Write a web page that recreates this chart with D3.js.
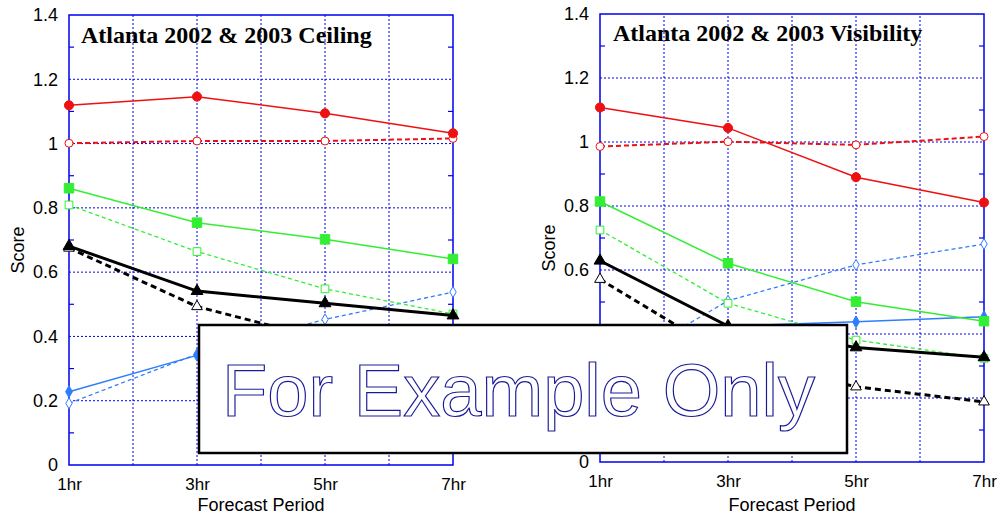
<!DOCTYPE html>
<html>
<head>
<meta charset="utf-8">
<script src="https://cdn.jsdelivr.net/npm/d3@7"></script>
<style>
  body { margin: 0; background: #fff; }
  svg { display: block; font-family: Arial, "Liberation Sans", sans-serif; }
</style>
</head>
<body>
<svg id="chart" width="999" height="516"></svg>
<script>
// Forecast periods (hours)
const periods = [1, 3, 5, 7];
const yTicks = [0, 0.2, 0.4, 0.6, 0.8, 1, 1.2, 1.4];

// Ceiling panel
const ceilRedSolid   = [1.119, 1.146, 1.094, 1.032];
const ceilRedDash    = [1.001, 1.008, 1.008, 1.016];
const ceilGreenSolid = [0.861, 0.754, 0.702, 0.641];
const ceilGreenDash  = [0.809, 0.664, 0.548, 0.470];
const ceilBlackSolid = [0.681, 0.541, 0.503, 0.465];
const ceilBlackDash  = [0.675, 0.493, 0.390, 0.360];
const ceilBlueSolid  = [0.228, 0.341, 0.390, 0.420];
const ceilBlueDash   = [0.192, 0.345, 0.453, 0.538];

// Visibility panel
const visRedSolid   = [1.108, 1.044, 0.890, 0.811];
const visRedDash    = [0.986, 1.001, 0.991, 1.017];
const visGreenSolid = [0.814, 0.621, 0.501, 0.440];
const visGreenDash  = [0.725, 0.496, 0.381, 0.324];
const visBlackSolid = [0.629, 0.425, 0.358, 0.327];
const visBlackDash  = [0.571, 0.330, 0.235, 0.188];
const visBlueSolid  = [0.280, 0.425, 0.438, 0.454];
const visBlueDash   = [0.270, 0.504, 0.616, 0.681];

const RED = "#ee1111", GREEN = "#33ee33", BLUE = "#2f7dff", BLACK = "#000";

// overlay box, in pixels
const box = { x: 199, y: 325, w: 648, h: 128 };

function seriesFor(r1, r2, g1, g2, b1, b2, k1, k2) {
  return [
    { values: b2, color: BLUE, dash: "4,3", width: 1.3, marker: "diamond", fill: false },
    { values: b1, color: BLUE, dash: null, width: 1.5, marker: "diamond", fill: true },
    { values: g2, color: GREEN, dash: "4,3", width: 1.3, marker: "square", fill: false },
    { values: g1, color: GREEN, dash: null, width: 1.5, marker: "square", fill: true },
    { values: r2, color: RED, dash: "5,3", width: 2, marker: "circle", fill: false },
    { values: r1, color: RED, dash: null, width: 1.5, marker: "circle", fill: true },
    { values: k2, color: BLACK, dash: "6,4", width: 3, marker: "triangle", fill: false },
    { values: k1, color: BLACK, dash: null, width: 3, marker: "triangle", fill: true }
  ];
}

const svg = d3.select("#chart");

function drawPanel(opts) {
  const x = d3.scaleLinear().domain([1, 7]).range([opts.x0, opts.x1]);
  const y = d3.scaleLinear().domain([0, 1.4]).range([opts.y0, opts.y1]);
  const g = svg.append("g");

  // grid
  g.append("g").selectAll("line").data([2, 3, 4, 5, 6]).join("line")
    .attr("x1", d => x(d)).attr("x2", d => x(d))
    .attr("y1", y(0)).attr("y2", y(1.4))
    .attr("stroke", "#0000ee").attr("stroke-width", 1).attr("stroke-dasharray", "2,2");
  g.append("g").selectAll("line").data([0.2, 0.4, 0.6, 0.8, 1, 1.2]).join("line")
    .attr("x1", x(1)).attr("x2", x(7))
    .attr("y1", d => y(d)).attr("y2", d => y(d))
    .attr("stroke", "#0000ee").attr("stroke-width", 1).attr("stroke-dasharray", "2,2");

  // minor ticks on left and right edges
  const minor = d3.range(0.1, 1.4, 0.2);
  g.append("g").selectAll("line").data(minor).join("line")
    .attr("x1", x(1)).attr("x2", x(1) + 5)
    .attr("y1", d => y(d)).attr("y2", d => y(d))
    .attr("stroke", "#0000ee").attr("stroke-width", 1.2);
  g.append("g").selectAll("line").data(minor).join("line")
    .attr("x1", x(7)).attr("x2", x(7) - 5)
    .attr("y1", d => y(d)).attr("y2", d => y(d))
    .attr("stroke", "#0000ee").attr("stroke-width", 1.2);

  // frame
  g.append("rect")
    .attr("x", x(1)).attr("y", y(1.4))
    .attr("width", x(7) - x(1)).attr("height", y(0) - y(1.4))
    .attr("fill", "none").attr("stroke", "#0000ee").attr("stroke-width", 1.5);

  // y tick labels (those hidden under the overlay box are left out)
  const visibleY = yTicks.filter(t => {
    const py = y(t), px = x(1) - 20;
    return !(px > box.x && px < box.x + box.w && py > box.y && py < box.y + box.h);
  });
  const yAxis = d3.axisLeft(y).tickValues(visibleY).tickSize(0).tickPadding(11)
    .tickFormat(d => d3.format("")(+d.toFixed(1)));
  const ya = g.append("g").attr("transform", `translate(${x(1)},0)`).call(yAxis);
  ya.select(".domain").remove();
  ya.selectAll("text").attr("font-size", 18).attr("fill", "#000")
    .attr("font-family", "Arial, 'Liberation Sans', sans-serif");

  const xAxis = d3.axisBottom(x).tickValues(periods).tickSize(0).tickPadding(13)
    .tickFormat(d => d + "hr");
  const xa = g.append("g").attr("transform", `translate(0,${y(0)})`).call(xAxis);
  xa.select(".domain").remove();
  xa.selectAll("text").attr("font-size", 17).attr("fill", "#000")
    .attr("font-family", "Arial, 'Liberation Sans', sans-serif");

  g.append("text")
    .attr("x", (x(1) + x(7)) / 2).attr("y", 511)
    .attr("text-anchor", "middle").attr("font-size", 18).text("Forecast Period");
  g.append("text")
    .attr("transform", `translate(${opts.scoreX},${(y(0) + y(1.4)) / 2 + 10}) rotate(-90)`)
    .attr("text-anchor", "middle").attr("font-size", 18).text("Score");

  // title
  g.append("text")
    .attr("x", opts.titleX).attr("y", opts.titleY)
    .attr("font-family", "'Liberation Serif', 'Times New Roman', serif")
    .attr("font-weight", "bold").attr("font-size", 24)
    .text(opts.title);

  // series
  const line = d3.line().x((d, i) => x(periods[i])).y(d => y(d));
  opts.series.forEach(s => {
    g.append("path")
      .attr("d", line(s.values))
      .attr("fill", "none").attr("stroke", s.color)
      .attr("stroke-width", s.width)
      .attr("stroke-dasharray", s.dash);
    const sym = {
      circle: d3.symbolCircle, square: d3.symbolSquare,
      triangle: d3.symbolTriangle, diamond: d3.symbolDiamond
    }[s.marker];
    const size = {
      circle: s.fill ? 65 : 50, square: s.fill ? 90 : 60,
      triangle: s.fill ? 60 : 50, diamond: s.fill ? 40 : 35
    }[s.marker];
    g.append("g").selectAll("path").data(s.values).join("path")
      .attr("transform", (d, i) => `translate(${x(periods[i])},${y(d)})`)
      .attr("d", d3.symbol().type(sym).size(size))
      .attr("fill", s.fill ? s.color : "#fff")
      .attr("stroke", s.color).attr("stroke-width", 1);
  });
}

drawPanel({
  x0: 69, x1: 453, y0: 465, y1: 15, scoreX: 24,
  title: "Atlanta 2002 & 2003 Ceiling", titleX: 81, titleY: 43,
  series: seriesFor(ceilRedSolid, ceilRedDash, ceilGreenSolid, ceilGreenDash,
                    ceilBlueSolid, ceilBlueDash, ceilBlackSolid, ceilBlackDash)
});
drawPanel({
  x0: 600, x1: 984, y0: 462, y1: 14, scoreX: 555,
  title: "Atlanta 2002 & 2003 Visibility", titleX: 613, titleY: 41,
  series: seriesFor(visRedSolid, visRedDash, visGreenSolid, visGreenDash,
                    visBlueSolid, visBlueDash, visBlackSolid, visBlackDash)
});

// "For Example Only" overlay box
svg.append("rect")
  .attr("x", box.x).attr("y", box.y).attr("width", box.w).attr("height", box.h)
  .attr("fill", "#fff").attr("stroke", "#000").attr("stroke-width", 2.5);
svg.append("text")
  .attr("x", 222).attr("y", 416)
  .attr("font-family", "Arial, 'Liberation Sans', sans-serif")
  .attr("font-size", 75)
  .attr("textLength", 593).attr("lengthAdjust", "spacingAndGlyphs")
  .attr("fill", "#fff").attr("stroke", "#1a1a99").attr("stroke-width", 1.2)
  .text("For Example Only");
</script>
</body>
</html>
